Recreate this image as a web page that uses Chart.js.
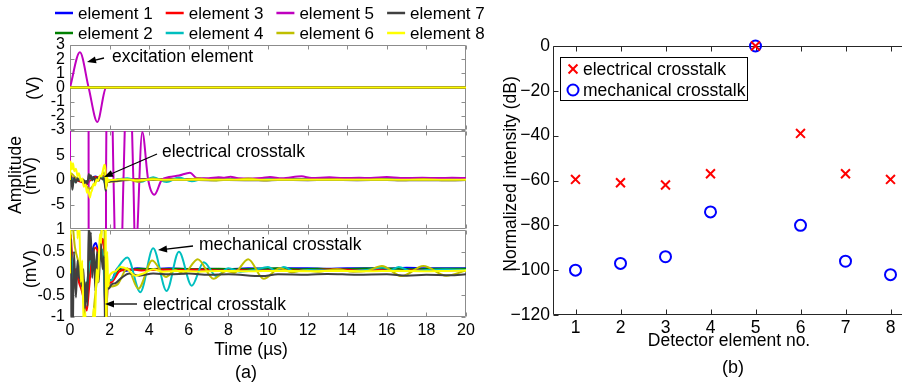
<!DOCTYPE html>
<html>
<head>
<meta charset="utf-8">
<script src="https://cdn.jsdelivr.net/npm/chart.js@4.4.1/dist/chart.umd.min.js"></script>
<style>
  html, body { margin: 0; padding: 0; background: #fff; width: 902px; height: 385px; overflow: hidden; }
  canvas { position: absolute; left: 0; top: 0; }
</style>
</head>
<body>
<canvas id="wavesV" width="902" height="385"></canvas>
<canvas id="wavesMv" width="902" height="385"></canvas>
<canvas id="wavesZoom" width="902" height="385"></canvas>
<canvas id="crosstalk" width="940" height="385"></canvas>
<script>
// element names and plot colours
const elementNames = ['element 1', 'element 2', 'element 3', 'element 4', 'element 5', 'element 6', 'element 7', 'element 8'];
const elementColors = ['#0000ff', '#008000', '#ff0000', '#00bfbf', '#bf00bf', '#bfbf00', '#404040', '#ffff00'];

// tick values
const timeTicks = [0, 2, 4, 6, 8, 10, 12, 14, 16, 18, 20];
const voltTicks = [3, 2, 1, 0, -1, -2, -3];
const mvTicks = [5, 0, -5];
const mvZoomTicks = [1, 0.5, 0, -0.5, -1];
const dbTicks = [0, -20, -40, -60, -80, -100, -120];

// received signals, [time (µs), amplitude (mV)]
const element1 = [[0,0],[0.05,0.6],[0.15,-0.2],[0.3,0.1],[0.5,-0.1],[0.7,-0.3],[0.85,-0.6],[1.0,0.1],[1.15,0.55],[1.3,0.7],[1.45,0.5],[1.6,0.8],[1.72,0.6],[1.8,-1.2],[1.9,-0.15],[2.1,-0.15],[2.4,0.12],[2.8,0.06],[3.4,0.12],[4,0.1],[5,0.12],[6,0.1],[7,0.11],[8,0.1],[9,0.12],[10,0.11],[11,0.12],[12,0.12],[13,0.11],[14,0.12],[15,0.12],[16,0.11],[17,0.13],[18,0.12],[19,0.12],[20,0.12]];
const element2 = [[0,0],[0.05,0.7],[0.15,-0.4],[0.3,0],[0.45,-0.15],[0.55,-0.25],[0.7,-0.15],[0.85,-0.5],[1.0,0.2],[1.15,0.45],[1.3,0.2],[1.5,0.55],[1.65,0.3],[1.75,0.7],[1.82,-1.4],[1.9,-0.2],[2.1,-0.15],[2.5,0.1],[3,0.08],[3.5,0.11],[4.5,0.1],[5.5,0.11],[6.5,0.1],[7.5,0.11],[8.5,0.1],[9.5,0.11],[10.5,0.12],[11.5,0.1],[12.5,0.11],[13.5,0.1],[14.5,0.11],[15.5,0.12],[16.5,0.11],[17.5,0.1],[18.5,0.11],[20,0.11]];
const element3 = [[0,0],[0.05,0.9],[0.15,-0.3],[0.3,0.1],[0.45,-0.2],[0.6,-0.4],[0.75,-0.7],[0.85,-0.85],[0.95,-0.4],[1.1,0.3],[1.3,0.6],[1.5,0.4],[1.62,0.8],[1.72,0.5],[1.8,-1.5],[1.9,-0.3],[2.1,-0.2],[2.5,0.05],[3,0.1],[3.6,0.07],[4.5,0.09],[5.5,0.08],[6.5,0.09],[7.5,0.07],[8.5,0.08],[9.5,0.06],[10.5,0.08],[11.5,0.07],[12.5,0.08],[13.5,0.1],[14.5,0.07],[15.5,0.08],[16.5,0.06],[17.5,0.08],[18.5,0.07],[20,0.08]];
const element4 = [[0,0],[0.05,0.5],[0.2,-0.3],[0.45,0.25],[0.75,-0.45],[1.05,0.3],[1.35,0.1],[1.65,0.55],[1.8,-0.9],[1.9,-0.2],[2.1,-0.15],[2.4,0.12],[2.9,0.37],[3.55,-0.43],[4.2,0.58],[4.88,-0.4],[5.5,0.5],[6.15,-0.28],[6.75,0.26],[7.4,-0.06],[8,0.12],[8.6,0.04],[9.3,0.08],[10,0.15],[10.4,0.06],[10.8,0.15],[11.3,0.05],[12,0.08],[13,0.07],[14,0.06],[15,0.08],[15.8,0.14],[16.2,0.08],[16.6,0.15],[17.2,0.06],[18,0.08],[19,0.09],[20,0.08]];
// excitation pulse on element 5
const element5 = [[0,0],[0.5,2480],[0.94,0],[1.38,-2430],[1.82,0],[2.0,40],[2.2,0],[2.45,-40],[2.7,0],[2.95,30],[3.2,0],[3.3,-16],[3.65,9.8],[3.95,0],[4.26,-3.0],[4.63,0],[5.0,0.6],[5.5,0.9],[6.06,1.5],[6.4,0.4],[7,0.35],[7.5,0.55],[7.8,0.45],[8.1,0.65],[8.5,0.35],[9.2,0.3],[9.7,0.4],[10.1,0.6],[10.7,0.35],[11.7,0.75],[12.2,0.4],[13.1,0.55],[13.8,0.4],[14.6,0.45],[15.2,0.4],[16,0.6],[16.7,0.4],[17.8,0.45],[18.6,0.4],[19.3,0.45],[20,0.4]];
const element6 = [[0,0],[0.05,1.4],[0.25,0.6],[0.5,0.1],[0.75,-0.9],[1.0,-1.8],[1.25,-0.6],[1.5,0.4],[1.72,1.6],[1.8,-1.1],[1.88,-0.2],[2.0,-0.3],[2.4,-0.25],[2.9,0.12],[3.45,-0.35],[4.15,0.3],[4.85,-0.08],[5.3,0.08],[5.75,0],[6.45,0.33],[7.25,-0.12],[7.9,0.06],[8.3,0.02],[9.0,0.33],[9.78,-0.12],[10.6,0.12],[11.2,0.03],[11.8,0.07],[12.5,0.04],[13.5,0.1],[14.3,0.04],[15,0.06],[15.75,0.17],[16.75,-0.06],[17.85,0.17],[19,-0.05],[20,0.07]];
const element7 = [[0,0],[0.05,0.8],[0.12,-2.0],[0.2,0.5],[0.3,-0.55],[0.38,0.3],[0.45,-0.1],[0.52,0.2],[0.6,-0.3],[0.68,0.1],[0.75,-0.8],[0.82,-0.2],[0.88,-0.75],[0.95,1.2],[1.0,0.3],[1.05,0.95],[1.12,-0.1],[1.2,0.6],[1.28,-0.4],[1.36,0.5],[1.45,-0.2],[1.55,0.7],[1.65,0.1],[1.72,0.4],[1.8,-2.2],[1.86,-0.3],[1.95,-0.35],[2.1,-0.25],[2.3,-0.22],[2.6,-0.1],[3,0],[3.5,-0.05],[4.2,0],[5,-0.02],[6,0],[7,-0.03],[8,-0.02],[9.7,-0.06],[10.5,-0.02],[12,-0.03],[13,-0.01],[14.5,-0.03],[16,-0.02],[17,-0.05],[18,-0.03],[19.2,-0.04],[20,-0.02]];
const element8 = [[0,0],[0.03,3.8],[0.1,2.2],[0.15,3.4],[0.22,1.8],[0.3,2.3],[0.38,0.8],[0.45,1.4],[0.55,-0.2],[0.62,0.3],[0.7,-1.4],[0.78,-0.9],[0.86,-2.6],[0.92,-2.0],[1.0,-3.6],[1.06,-2.6],[1.12,-2.0],[1.18,-0.8],[1.26,-1.1],[1.34,0.1],[1.42,-0.2],[1.5,0.9],[1.58,0.7],[1.66,1.9],[1.74,3.1],[1.79,2.2],[1.83,-1.8],[1.88,0.5],[1.93,-0.3],[2.0,-0.05],[2.3,0.05],[2.55,0.15],[2.9,0.1],[3.3,-0.05],[3.7,0],[4.2,0.1],[4.7,0.04],[5.5,0.06],[6.5,0.04],[7.5,0.06],[9,0.05],[10.5,0.06],[12,0.05],[13.5,0.06],[15,0.05],[16.5,0.06],[18,0.05],[19,0.06],[20,0.07]];

// crosstalk levels per detector element (dB)
const detectorNo = [1, 2, 3, 4, 5, 6, 7, 8];
const electricalDb = [-59.5, -61, -62, -57, 0, -39, -57, -59.5];
const mechanicalDb = [-100, -97, -94, -74, 0, -80, -96, -102];

const signals = [element1, element2, element3, element4, element5, element6, element7, element8];

const FONT = '"Liberation Sans", Arial, Helvetica, sans-serif';
Chart.defaults.font.family = FONT;
Chart.defaults.color = '#000';

// line datasets for one panel; scale converts mV to the panel's unit
function waveSets(scale, skip) {
  const sets = [];
  signals.forEach((pts, i) => {
    if (i === skip) return;
    sets.push({
      label: elementNames[i],
      data: pts.map(([t, v]) => ({ x: t, y: v * scale })),
      borderColor: elementColors[i],
      backgroundColor: elementColors[i],
      borderWidth: 2,
      pointRadius: 0,
      cubicInterpolationMode: 'monotone',
      order: 8 - i
    });
  });
  return sets;
}

// pin the plot area so the stacked panels line up
function pinArea(box, yWidth, xHeight, w, h) {
  return { padding: { left: box.left - yWidth, top: box.top, right: w - box.right, bottom: h - box.bottom - xHeight } };
}

const plainNum = v => String(v);
const minusNum = v => (v < 0 ? '\u2212' + Math.abs(v) : String(v));

function axisX(ticks, min, max, height, showLabels, size, pad, fmt) {
  return {
    type: 'linear', min, max,
    afterBuildTicks: s => { s.ticks = ticks.map(v => ({ value: v })); },
    afterFit: s => { s.height = height; },
    grid: { display: false, drawTicks: false },
    border: { display: false },
    ticks: { display: showLabels, autoSkip: false, maxRotation: 0, padding: pad, font: { size }, callback: fmt }
  };
}

function axisY(ticks, min, max, width, size, pad, fmt) {
  return {
    type: 'linear', min, max,
    afterBuildTicks: s => { s.ticks = ticks.map(v => ({ value: v })); },
    afterFit: s => { s.width = width; },
    grid: { display: false, drawTicks: false },
    border: { display: false },
    ticks: { autoSkip: false, padding: pad, font: { size }, callback: fmt }
  };
}

// box round the axes with inward tick marks on all four sides
function boxFrame(color, len) {
  return {
    id: 'boxFrame',
    beforeDatasetsDraw(chart) {
      const { ctx, chartArea: a, scales: { x, y } } = chart;
      const l = Math.round(a.left) + 0.5, r = Math.round(a.right) - 0.5;
      const t = Math.round(a.top) + 0.5, b = Math.round(a.bottom) - 0.5;
      ctx.save();
      ctx.strokeStyle = color;
      ctx.lineWidth = 1;
      ctx.beginPath();
      x.ticks.forEach(tk => {
        const px = Math.round(x.getPixelForValue(tk.value)) + 0.5;
        ctx.moveTo(px, b); ctx.lineTo(px, b - len);
        ctx.moveTo(px, t); ctx.lineTo(px, t + len);
      });
      y.ticks.forEach(tk => {
        const py = Math.round(y.getPixelForValue(tk.value)) + 0.5;
        ctx.moveTo(l, py); ctx.lineTo(l + len, py);
        ctx.moveTo(r, py); ctx.lineTo(r - len, py);
      });
      ctx.rect(l, t, r - l, b - t);
      ctx.stroke();
      ctx.restore();
    }
  };
}

function drawArrow(ctx, x1, y1, x2, y2) {
  const ang = Math.atan2(y2 - y1, x2 - x1);
  const c = Math.cos(ang), s = Math.sin(ang);
  const len = 9, half = 3.5;
  ctx.lineWidth = 1.3;
  ctx.beginPath();
  ctx.moveTo(x1, y1);
  ctx.lineTo(x2 - c * len * 0.7, y2 - s * len * 0.7);
  ctx.stroke();
  ctx.beginPath();
  ctx.moveTo(x2, y2);
  ctx.lineTo(x2 - c * len + s * half, y2 - s * len - c * half);
  ctx.lineTo(x2 - c * len - s * half, y2 - s * len + c * half);
  ctx.closePath();
  ctx.fill();
}

// axis titles, panel letters and arrow callouts
function notes(items) {
  return {
    id: 'notes',
    afterDraw(chart) {
      const ctx = chart.ctx;
      ctx.save();
      ctx.fillStyle = '#000';
      ctx.strokeStyle = '#000';
      items.forEach(n => {
        if (n.arrow) drawArrow(ctx, ...n.arrow);
        if (!n.text) return;
        ctx.save();
        ctx.translate(n.x, n.y);
        if (n.rotate) ctx.rotate(-Math.PI / 2);
        ctx.font = (n.size || 17.5) + 'px ' + FONT;
        ctx.textAlign = n.align || 'center';
        ctx.textBaseline = 'middle';
        ctx.fillText(n.text, 0, 0);
        ctx.restore();
      });
      ctx.restore();
    }
  };
}

// two-row legend above the top panel, filled column by column
const elementLegend = {
  id: 'elementLegend',
  afterDraw(chart) {
    const ctx = chart.ctx;
    ctx.save();
    ctx.font = '17px ' + FONT;
    ctx.textAlign = 'left';
    ctx.textBaseline = 'middle';
    chart.data.datasets.forEach((ds, i) => {
      const x = 55 + Math.floor(i / 2) * 110.7;
      const y = 13 + (i % 2) * 20;
      ctx.strokeStyle = ds.borderColor;
      ctx.lineWidth = 2.5;
      ctx.beginPath();
      ctx.moveTo(x, y);
      ctx.lineTo(x + 18, y);
      ctx.stroke();
      ctx.fillStyle = '#000';
      ctx.fillText(ds.label, x + 23, y + 1);
    });
    ctx.restore();
  }
};

// boxed legend in the corner of the crosstalk plot
const markerLegend = {
  id: 'markerLegend',
  afterDraw(chart) {
    const ctx = chart.ctx;
    ctx.save();
    ctx.fillStyle = '#fff';
    ctx.fillRect(560, 57, 187, 43);
    ctx.strokeStyle = '#000';
    ctx.lineWidth = 1;
    ctx.strokeRect(560.5, 57.5, 187, 43);
    ctx.font = '17.5px ' + FONT;
    ctx.textAlign = 'left';
    ctx.textBaseline = 'middle';
    chart.data.datasets.forEach((ds, i) => {
      const x = 573, y = 69 + i * 21;
      ctx.strokeStyle = ds.borderColor;
      ctx.lineWidth = 2;
      ctx.beginPath();
      if (ds.pointStyle === 'crossRot') {
        const d = ds.pointRadius * Math.SQRT1_2;
        ctx.moveTo(x - d, y - d); ctx.lineTo(x + d, y + d);
        ctx.moveTo(x - d, y + d); ctx.lineTo(x + d, y - d);
      } else {
        ctx.arc(x, y, ds.pointRadius, 0, Math.PI * 2);
      }
      ctx.stroke();
      ctx.fillStyle = '#000';
      ctx.fillText(ds.label, x + 10, y + 1);
    });
    ctx.restore();
  }
};

const W = 902, H = 385;
const common = { responsive: false, animation: false, events: [] };
const noLegend = { legend: { display: false }, tooltip: { enabled: false } };

// (a) top: excitation in volts
new Chart(document.getElementById('wavesV'), {
  type: 'line',
  data: { datasets: waveSets(0.001) },
  options: {
    ...common,
    layout: pinArea({ left: 70, top: 45, right: 466, bottom: 130 }, 40, 0, W, H),
    plugins: noLegend,
    scales: {
      x: axisX(timeTicks, 0, 20, 0, false, 16, 4, plainNum),
      y: axisY(voltTicks, -3, 3, 40, 16, 5, plainNum)
    }
  },
  plugins: [boxFrame('#8c8c8c', 4), elementLegend, notes([
    { text: '(V)', x: 34, y: 88, rotate: true },
    { text: 'excitation element', x: 112, y: 57, align: 'left', arrow: [104, 58, 87, 62] }
  ])]
});

// (a) middle: all elements in mV
new Chart(document.getElementById('wavesMv'), {
  type: 'line',
  data: { datasets: waveSets(1) },
  options: {
    ...common,
    layout: pinArea({ left: 70, top: 131, right: 466, bottom: 229 }, 40, 0, W, H),
    plugins: noLegend,
    scales: {
      x: axisX(timeTicks, 0, 20, 0, false, 16, 4, plainNum),
      y: axisY(mvTicks, -10, 10, 40, 16, 5, plainNum)
    }
  },
  plugins: [boxFrame('#8c8c8c', 4), notes([
    { text: 'Amplitude', x: 16.5, y: 175, rotate: true },
    { text: '(mV)', x: 31, y: 176, rotate: true },
    { text: 'electrical crosstalk', x: 162, y: 152, align: 'left', arrow: [157, 154, 104, 177] }
  ])]
});

// (a) bottom: detector elements only, zoomed in
new Chart(document.getElementById('wavesZoom'), {
  type: 'line',
  data: { datasets: waveSets(1, 4) },
  options: {
    ...common,
    layout: pinArea({ left: 70, top: 230, right: 466, bottom: 317 }, 40, 25, W, H),
    plugins: noLegend,
    scales: {
      x: axisX(timeTicks, 0, 20, 25, true, 16, 4, plainNum),
      y: axisY(mvZoomTicks, -1, 1, 40, 16, 5, plainNum)
    }
  },
  plugins: [boxFrame('#8c8c8c', 4), notes([
    { text: '(mV)', x: 31, y: 269, rotate: true },
    { text: 'mechanical crosstalk', x: 199, y: 245, align: 'left', arrow: [193, 246, 158, 250] },
    { text: 'electrical crosstalk', x: 143, y: 305, align: 'left', arrow: [137, 304, 105, 304] },
    { text: 'Time (\u00b5s)', x: 251, y: 350 },
    { text: '(a)', x: 246, y: 373, size: 18 }
  ])]
});

// (b) crosstalk intensity per detector element
new Chart(document.getElementById('crosstalk'), {
  type: 'scatter',
  data: {
    datasets: [
      {
        label: 'electrical crosstalk',
        data: detectorNo.map((n, i) => ({ x: n, y: electricalDb[i] })),
        pointStyle: 'crossRot', pointRadius: 6.3, borderWidth: 2,
        borderColor: '#ff0000', backgroundColor: '#ff0000',
        clip: false
      },
      {
        label: 'mechanical crosstalk',
        data: detectorNo.map((n, i) => ({ x: n, y: mechanicalDb[i] })),
        pointStyle: 'circle', pointRadius: 5.5, borderWidth: 2,
        borderColor: '#0000ff', backgroundColor: 'rgba(0,0,0,0)',
        clip: false
      }
    ]
  },
  options: {
    ...common,
    layout: pinArea({ left: 553, top: 46, right: 913, bottom: 315 }, 60, 30, 940, H),
    plugins: noLegend,
    scales: {
      x: axisX(detectorNo, 0.5, 8.5, 30, true, 17.5, 3, plainNum),
      y: axisY(dbTicks, -120, 0, 60, 17.5, 3, minusNum)
    }
  },
  plugins: [boxFrame('#262626', 5), markerLegend, notes([
    { text: 'Normalized intensity (dB)', x: 511, y: 174, rotate: true },
    { text: 'Detector element no.', x: 729, y: 341 },
    { text: '(b)', x: 733, y: 368, size: 18 }
  ])]
});
</script>
</body>
</html>
